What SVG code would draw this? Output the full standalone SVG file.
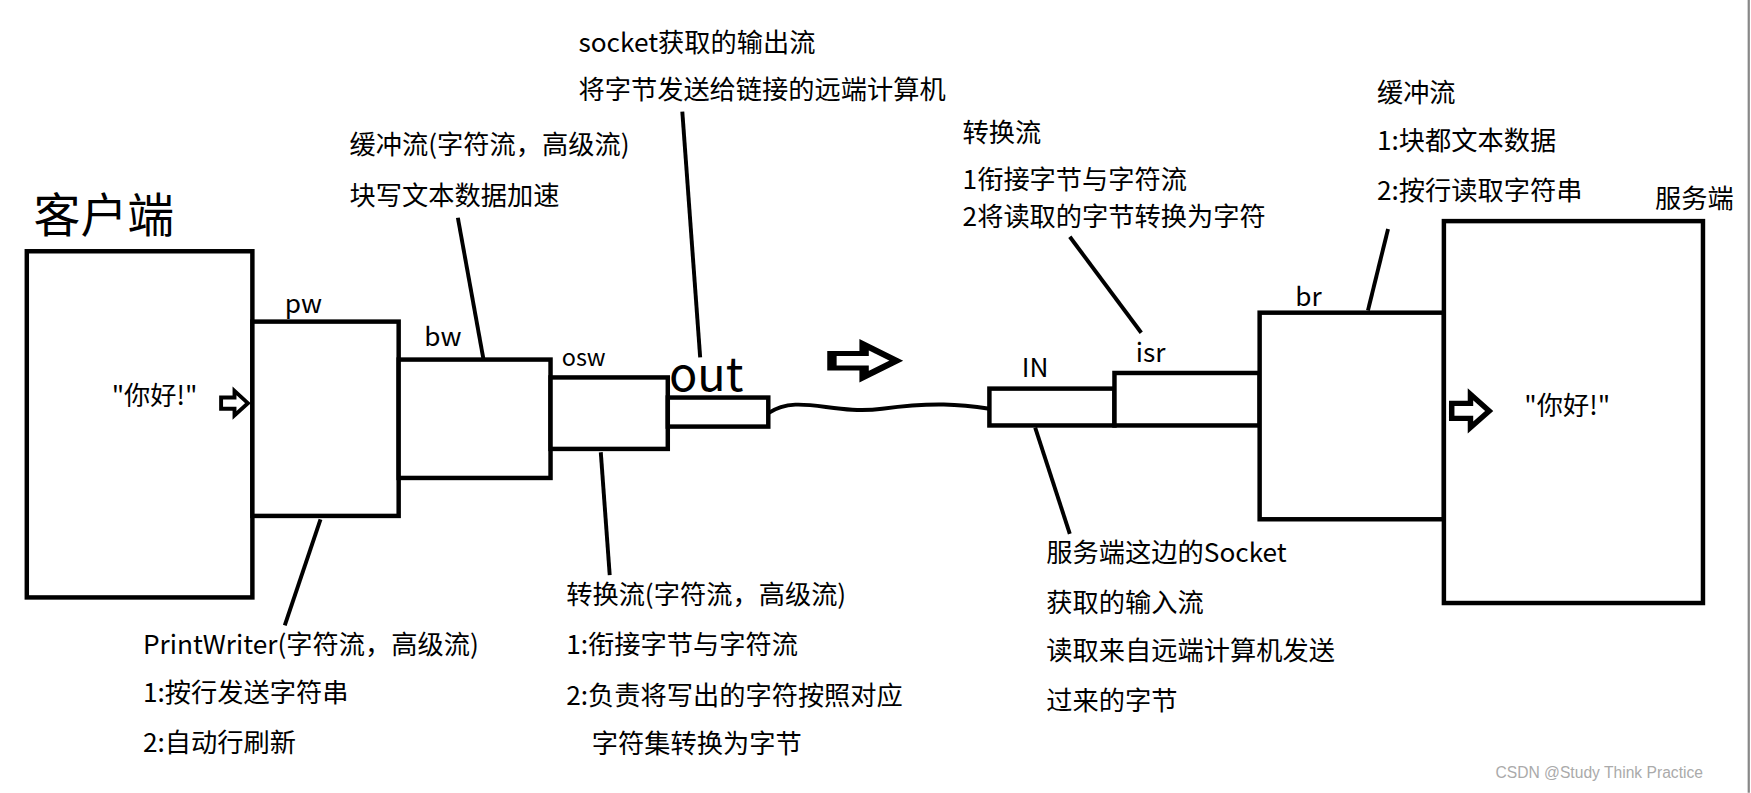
<svg xmlns="http://www.w3.org/2000/svg" width="1751" height="793" viewBox="0 0 1751 793">
<style>
.b{fill:#fff;stroke:#000;stroke-width:4}
.l{stroke:#000;stroke-width:3.5;fill:none}
text{font-family:"Noto Sans CJK SC","Microsoft YaHei",sans-serif;font-size:23.5px;fill:#000}
</style>
<defs><path id="ar" d="M0,-5 H12 V-11 L24,0 L12,11 V5 H0 Z" fill="#fff" stroke="#000" stroke-width="3.5"/></defs>
<rect width="1751" height="793" fill="#fff"/>
<g transform="scale(1.1167)">
<line x1="1566" y1="0" x2="1566" y2="710" stroke="#888" stroke-width="2"/>
<g id="connectors">
<path class="l" d="M688,370 C715,352 745,372 790,366 S860,362 886,366"/>
<line class="l" x1="287" y1="465" x2="255" y2="560"/>
<line class="l" x1="410" y1="195" x2="433" y2="322"/>
<line class="l" x1="611" y1="100" x2="627" y2="320"/>
<line class="l" x1="538" y1="405" x2="546" y2="515"/>
<line class="l" x1="927" y1="383" x2="958" y2="478"/>
<line class="l" x1="958" y1="212" x2="1022" y2="298"/>
<line class="l" x1="1243" y1="205" x2="1225" y2="278"/>
<use href="#ar" transform="translate(745,323) scale(2.4,1.3)"/>
</g>
<g id="client"><rect class="b" x="24" y="225" width="202" height="310"/><text x="30" y="208" style="font-size:42px">客户端</text><text x="100" y="363">"你好!"</text><use href="#ar" transform="translate(198,361)"/></g>
<g id="pw"><rect class="b" x="226" y="288" width="131" height="174"/><text x="255" y="280">pw</text></g>
<g id="bw"><rect class="b" x="357" y="322" width="136" height="106"/><text x="380" y="310">bw</text></g>
<g id="osw"><rect class="b" x="493" y="338" width="105" height="64"/><text x="503" y="328" style="font-size:21px">osw</text></g>
<g id="out"><rect class="b" x="598" y="356" width="90" height="26"/><text x="599" y="350" style="font-size:42px">out</text></g>
<g id="IN"><rect class="b" x="886" y="348" width="112" height="33"/><text x="915" y="338">IN</text></g>
<g id="isr"><rect class="b" x="998" y="334" width="130" height="47"/><text x="1017" y="324">isr</text></g>
<g id="br"><rect class="b" x="1128" y="280" width="165" height="185"/><text x="1160" y="274">br</text></g>
<g id="server"><rect class="b" x="1293" y="198" width="232" height="342"/><text x="1482" y="186">服务端</text><use href="#ar" transform="translate(1300,368) scale(1.4,1.35)"/><text x="1365" y="372">"你好!"</text></g>
<g id="labels">
<text x="518" y="47">socket获取的输出流</text><text x="518" y="89">将字节发送给链接的远端计算机</text>
<text x="313" y="138">缓冲流(字符流，高级流)</text><text x="313" y="184">块写文本数据加速</text>
<text x="862" y="127">转换流</text><text x="862" y="169">1衔接字节与字符流</text><text x="862" y="202">2将读取的字节转换为字符</text>
<text x="1233" y="91">缓冲流</text><text x="1233" y="134">1:块都文本数据</text><text x="1233" y="179">2:按行读取字符串</text>
<text x="128" y="586">PrintWriter(字符流，高级流)</text><text x="128" y="629">1:按行发送字符串</text><text x="128" y="673">2:自动行刷新</text>
<text x="507" y="541">转换流(字符流，高级流)</text><text x="507" y="586">1:衔接字节与字符流</text><text x="507" y="631">2:负责将写出的字符按照对应</text><text x="530" y="674">字符集转换为字节</text>
<text x="937" y="503">服务端这边的Socket</text><text x="937" y="548">获取的输入流</text><text x="937" y="591">读取来自远端计算机发送</text><text x="937" y="636">过来的字节</text>
<text x="1525" y="697" text-anchor="end" style="font-size:14px;fill:#aaa;font-family:'Liberation Sans',sans-serif">CSDN @Study Think Practice</text>
</g>
</g>
</svg>
